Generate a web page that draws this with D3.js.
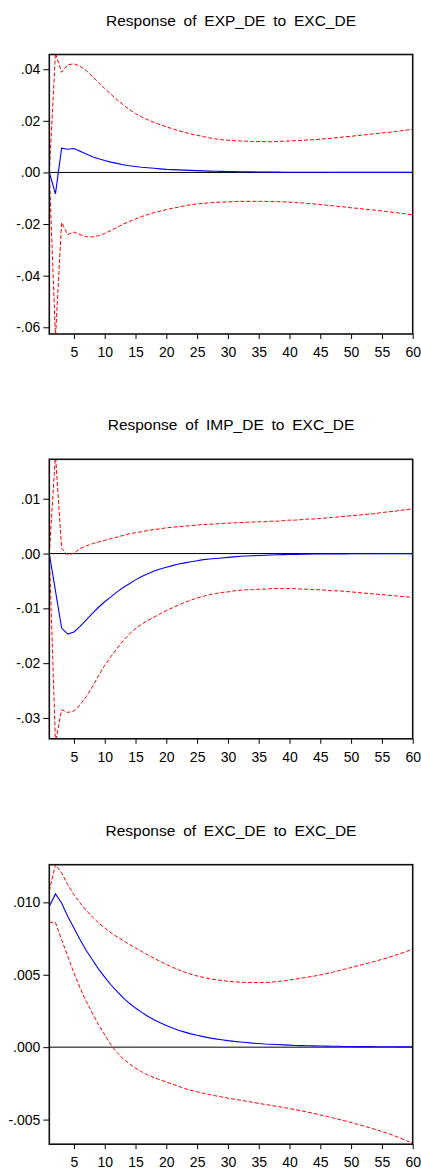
<!DOCTYPE html>
<html><head><meta charset="utf-8">
<script src="https://cdn.jsdelivr.net/npm/d3@7"></script>
<style>body{margin:0;background:#fff}svg{display:block}</style>
</head><body>
<script>
// ---------- DATA ----------
const periods = d3.range(1, 61);
const xTicks = [5,10,15,20,25,30,35,40,45,50,55,60];
const titles = ["Response of EXP_DE to EXC_DE","Response of IMP_DE to EXC_DE","Response of EXC_DE to EXC_DE"];

const yDomains = [[-0.0626, 0.0457], [-0.0338, 0.0172], [-0.0067, 0.0126]];
const yTickValues = [[-0.06,-0.04,-0.02,0,0.02,0.04],[-0.03,-0.02,-0.01,0,0.01],[-0.005,0,0.005,0.010]];
const yTickLabels = [["-.06","-.04","-.02",".00",".02",".04"],["-.03","-.02","-.01",".00",".01"],["-.005",".000",".005",".010"]];

// Panel 1: EXP_DE to EXC_DE
const exp_resp = [0,-0.0083,0.0094,0.0090,0.0093,0.0082,0.0071,0.0061,0.0053,0.0046,0.0040,0.0035,0.0030,0.0026,0.0023,0.0020,0.0018,0.0016,0.0014,0.0012,0.0011,0.0010,0.0009,0.0008,0.0007,0.0006,0.0005,0.00045,0.0004,0.00035,0.0003,0.00027,0.00024,0.00021,0.00018,0.00016,0.00014,0.00012,0.0001,0.00009,0.00008,0.00007,0.00006,0.00006,0.00005,0.00005,0.00004,0.00004,0.00003,0.00003,0.00003,0.00002,0.00002,0.00002,0.00002,0.00001,0.00001,0.00001,0.00001,0.00001];
const exp_up = [0,0.0462,0.0388,0.0417,0.0421,0.0411,0.0395,0.0372,0.0349,0.0325,0.0303,0.0282,0.0262,0.0244,0.0228,0.0215,0.0204,0.0194,0.0185,0.0177,0.0169,0.0162,0.0155,0.0149,0.0144,0.0139,0.0134,0.0130,0.0127,0.0125,0.0123,0.0122,0.0121,0.0120,0.0120,0.0119,0.0119,0.0120,0.0121,0.0122,0.0123,0.0124,0.0126,0.0127,0.0129,0.0131,0.0133,0.0135,0.0138,0.0140,0.0143,0.0145,0.0148,0.0150,0.0153,0.0155,0.0158,0.0161,0.0164,0.0167];
const exp_lo = [0,-0.0640,-0.0194,-0.0241,-0.0231,-0.0241,-0.0249,-0.0250,-0.0245,-0.0236,-0.0225,-0.0213,-0.0200,-0.0190,-0.0180,-0.0171,-0.0163,-0.0156,-0.0150,-0.0144,-0.0139,-0.0134,-0.0129,-0.0125,-0.0122,-0.0120,-0.0118,-0.0116,-0.0115,-0.0114,-0.0113,-0.0112,-0.0112,-0.0112,-0.0112,-0.0112,-0.0113,-0.0113,-0.0114,-0.0115,-0.0117,-0.0118,-0.0120,-0.0122,-0.0124,-0.0127,-0.0129,-0.0132,-0.0134,-0.0137,-0.0139,-0.0142,-0.0144,-0.0147,-0.0149,-0.0152,-0.0155,-0.0158,-0.0161,-0.0164];

// Panel 2: IMP_DE to EXC_DE
const imp_resp = [0,-0.0068,-0.0136,-0.0147,-0.0143,-0.0133,-0.0121,-0.0109,-0.0098,-0.0088,-0.0079,-0.0070,-0.0062,-0.0055,-0.0048,-0.0042,-0.0037,-0.0032,-0.0028,-0.0025,-0.0022,-0.0019,-0.0017,-0.0015,-0.0013,-0.0011,-0.0010,-0.0009,-0.0008,-0.0007,-0.0006,-0.0005,-0.00045,-0.0004,-0.00035,-0.0003,-0.00026,-0.00022,-0.00019,-0.00016,-0.00014,-0.00012,-0.0001,-0.00009,-0.00008,-0.00007,-0.00006,-0.00005,-0.00005,-0.00004,-0.00004,-0.00003,-0.00003,-0.00003,-0.00002,-0.00002,-0.00002,-0.00002,-0.00002,-0.00002];
const imp_up = [0,0.0180,0.0010,-0.0003,0.0001,0.0009,0.0014,0.0018,0.0021,0.0024,0.0027,0.0030,0.0033,0.0036,0.0038,0.0040,0.0042,0.0044,0.0045,0.0047,0.0048,0.0049,0.0050,0.0051,0.0052,0.0053,0.00535,0.0054,0.0055,0.00555,0.0056,0.00565,0.0057,0.00575,0.0058,0.0058,0.0059,0.0059,0.0060,0.0061,0.0061,0.0062,0.0063,0.0063,0.0064,0.0065,0.0066,0.0067,0.0068,0.0069,0.0070,0.0071,0.0072,0.0073,0.0075,0.0076,0.0077,0.0079,0.0080,0.0082];
const imp_lo = [0,-0.0345,-0.0285,-0.0290,-0.0287,-0.0276,-0.0261,-0.0243,-0.0223,-0.0204,-0.0188,-0.0173,-0.0159,-0.0147,-0.0137,-0.0129,-0.0122,-0.0116,-0.0110,-0.0104,-0.0099,-0.0094,-0.0089,-0.0085,-0.0081,-0.0078,-0.0075,-0.0073,-0.0071,-0.0070,-0.0068,-0.0067,-0.0066,-0.0066,-0.0065,-0.0065,-0.0064,-0.0064,-0.0064,-0.0064,-0.0064,-0.0065,-0.0065,-0.0066,-0.0066,-0.0067,-0.0068,-0.0068,-0.0069,-0.0070,-0.0071,-0.0072,-0.0073,-0.0074,-0.0075,-0.0076,-0.0077,-0.0078,-0.0079,-0.0080];

// Panel 3: EXC_DE to EXC_DE
const exc_resp = [0.00972,0.01058,0.00996,0.00903,0.00823,0.00742,0.00668,0.00604,0.00539,0.00484,0.00431,0.00385,0.00340,0.00303,0.00270,0.00240,0.00213,0.00189,0.00168,0.00149,0.00132,0.00117,0.00104,0.00092,0.00082,0.00073,0.00064,0.00057,0.00051,0.00045,0.00040,0.00036,0.00032,0.00028,0.00025,0.00022,0.00020,0.00018,0.00016,0.00014,0.00012,0.00011,0.00010,0.00009,0.00008,0.00007,0.00006,0.00006,0.00005,0.00005,0.00004,0.00004,0.00004,0.00003,0.00003,0.00003,0.00003,0.00002,0.00002,0.00002];
const exc_up = [0.01078,0.01261,0.01203,0.01122,0.01053,0.00996,0.00945,0.00899,0.00858,0.00823,0.00790,0.00762,0.00736,0.00710,0.00685,0.00661,0.00637,0.00614,0.00592,0.00571,0.00552,0.00534,0.00518,0.00504,0.00492,0.00482,0.00473,0.00466,0.00460,0.00455,0.00451,0.00449,0.00447,0.00446,0.00446,0.00447,0.00449,0.00453,0.00458,0.00464,0.00470,0.00477,0.00484,0.00491,0.00499,0.00508,0.00518,0.00528,0.00539,0.00550,0.00561,0.00572,0.00583,0.00594,0.00606,0.00618,0.00632,0.00646,0.00661,0.00678];
const exc_lo = [0.00862,0.00862,0.00742,0.00627,0.00512,0.00408,0.00316,0.00235,0.00154,0.00085,0.00016,-0.00037,-0.00080,-0.00115,-0.00145,-0.00170,-0.00192,-0.00210,-0.00226,-0.00240,-0.00256,-0.00270,-0.00286,-0.00298,-0.00308,-0.00318,-0.00327,-0.00336,-0.00344,-0.00352,-0.00359,-0.00366,-0.00373,-0.00381,-0.00388,-0.00395,-0.00402,-0.00409,-0.00416,-0.00424,-0.00432,-0.00440,-0.00449,-0.00458,-0.00468,-0.00478,-0.00488,-0.00498,-0.00509,-0.00520,-0.00532,-0.00544,-0.00556,-0.00569,-0.00582,-0.00596,-0.00612,-0.00628,-0.00646,-0.00664];

const panels = [
  {resp: exp_resp, up: exp_up, lo: exp_lo},
  {resp: imp_resp, up: imp_up, lo: imp_lo},
  {resp: exc_resp, up: exc_up, lo: exc_lo}
];

// ---------- LAYOUT ----------
const W = 421, H = 1176;
const left = 49.3, right = 412.7;
const tops = [54.5, 459.3, 864.7];
const ph = 279.5;
const FONT = "'Liberation Sans', Arial, sans-serif";

const svg = d3.select("body").append("svg").attr("width", W).attr("height", H)
  .style("font-family", FONT);

const x = d3.scaleLinear().domain([1, 60]).range([left, right]);

panels.forEach((p, i) => {
  const top = tops[i], bottom = top + ph;
  const y = d3.scaleLinear().domain(yDomains[i]).range([bottom, top]);
  const g = svg.append("g");

  // title
  g.append("text").attr("x", (left + right) / 2).attr("y", top - 29)
    .attr("text-anchor", "middle").attr("font-size", 15.5).attr("word-spacing", 3.5)
    .attr("fill", "#000").text(titles[i]);

  const clipId = "clip" + i;
  svg.append("clipPath").attr("id", clipId).append("rect")
    .attr("x", left).attr("y", top).attr("width", right - left).attr("height", ph);

  // zero line
  g.append("line").attr("x1", left).attr("x2", right).attr("y1", y(0)).attr("y2", y(0))
    .attr("stroke", "#000").attr("stroke-width", 1);

  const line = d3.line().x((d, k) => x(periods[k])).y(d => y(d));
  const lg = g.append("g").attr("clip-path", `url(#${clipId})`);
  [p.up, p.lo].forEach(s => {
    lg.append("path").attr("d", line(s)).attr("fill", "none")
      .attr("stroke", "#ff0000").attr("stroke-width", 1).attr("stroke-dasharray", "4,2");
  });
  lg.append("path").attr("d", line(p.resp)).attr("fill", "none")
    .attr("stroke", "#0000ff").attr("stroke-width", 1.1);

  // axes
  const yAxis = d3.axisLeft(y).tickValues(yTickValues[i])
    .tickFormat((d, k) => yTickLabels[i][k]).tickSize(6).tickPadding(3);
  const ya = g.append("g").attr("transform", `translate(${left},0)`).call(yAxis);
  ya.select(".domain").remove();
  ya.selectAll("text").attr("font-size", 14).attr("font-family", FONT).attr("fill", "#000");
  ya.selectAll("line").attr("stroke", "#000");

  const xAxis = d3.axisBottom(x).tickValues(xTicks).tickFormat(d3.format("d")).tickSize(5).tickPadding(8);
  const xa = g.append("g").attr("transform", `translate(0,${bottom})`).call(xAxis);
  xa.select(".domain").remove();
  xa.selectAll("text").attr("font-size", 14).attr("font-family", FONT).attr("fill", "#000");
  xa.selectAll("line").attr("stroke", "#000");

  // frame
  g.append("rect").attr("x", left).attr("y", top).attr("width", right - left).attr("height", ph)
    .attr("fill", "none").attr("stroke", "#111").attr("stroke-width", 1.6);
});
</script>
</body></html>
